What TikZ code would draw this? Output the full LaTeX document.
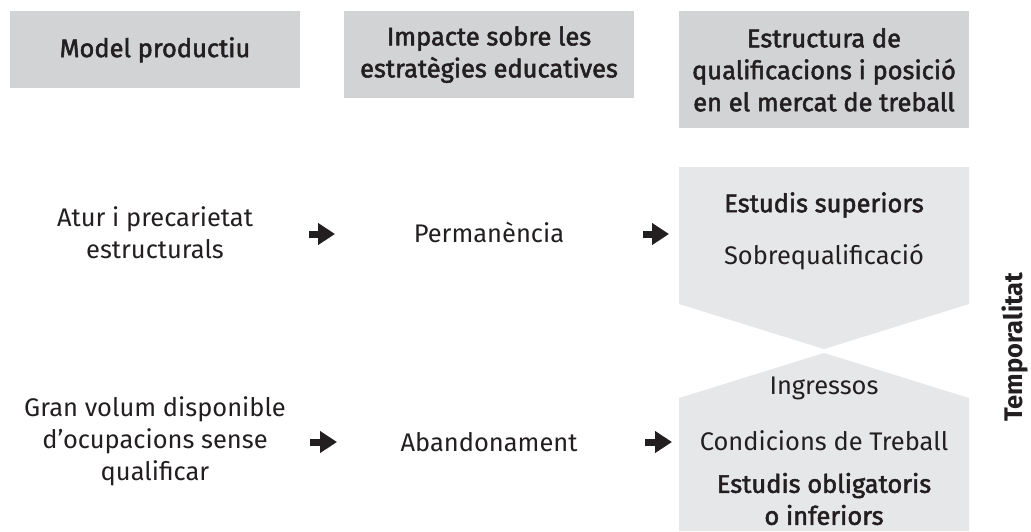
\documentclass[tikz,border=0pt]{standalone}
\usepackage{fontspec}
\setmainfont{Fira Sans}
\newfontfamily\medfont{Fira Sans}[FakeBold=2]
\usepackage{tikz}
\usetikzlibrary{arrows.meta,positioning,calc}
\definecolor{hdrcol}{HTML}{D1D3D4}
\definecolor{levcol}{HTML}{E6E7E8}
\definecolor{inkcol}{HTML}{231F20}

\tikzset{
  hdrbox/.style={fill=hdrcol,anchor=north,minimum width=5.8cm,inner sep=0pt,align=center,
    font=\medfont\fontsize{14.5}{18.2}\selectfont,text=inkcol},
  txt/.style={align=center,font=\fontsize{14.5}{18.2}\selectfont,text=inkcol,inner sep=0pt},
  boldtxt/.style={txt,font=\medfont\fontsize{14.5}{18.2}\selectfont},
  fatarrow/.style={draw=inkcol,line width=0.14cm,-{Triangle[length=0.34cm,width=0.42cm]}}
}

\begin{document}
\begin{tikzpicture}[x=0.02cm,y=-0.02cm]
  \useasboundingbox (0,0) rectangle (1031,531);
  % column headers
  \node[hdrbox,minimum height=1.54cm] (hmodel) at (155,11) {Model productiu};
  \node[hdrbox,minimum height=1.73cm] (himpact) at (489,11) {Impacte sobre les\\estratègies educatives};
  \node[hdrbox,minimum height=2.34cm] (hestr) at (824,11) {Estructura de\\qualificacions i posició\\en el mercat de treball};
  % the two levels of qualification
  \fill[levcol] (679,167) -- (969,167) -- (969,304) -- (824,349) -- (679,304) -- cycle;
  \fill[levcol] (679,398) -- (824,353) -- (969,398) -- (969,531) -- (679,531) -- cycle;
  % first row
  \node[txt] (atur) at (155,233) {Atur i precarietat\\estructurals};
  \node[txt] (perma) at (489,232) {Permanència};
  \node[boldtxt] (estsup) at (824,205) {Estudis superiors};
  \node[txt] (sobreq) at (824,257) {Sobrequalificació};
  % second row
  \node[txt] (gran) at (155,441) {Gran volum disponible\\d’ocupacions sense\\qualificar};
  \node[txt] (aband) at (489,442) {Abandonament};
  \node[txt] (ingr) at (824,388) {Ingressos};
  \node[txt] (condic) at (824,441) {Condicions de Treball};
  \node[boldtxt] (estobl) at (824,499) {Estudis obligatoris\\o inferiors};
  \node[txt,font=\bfseries\fontsize{14.5}{18.2}\selectfont,rotate=90] (temp) at (1015,347) {Temporalitat};
  % arrows between the columns
  \coordinate (a1) at (309,234); \coordinate (b1) at (335,234);
  \coordinate (a2) at (643,234); \coordinate (b2) at (669,234);
  \coordinate (a3) at (310,442); \coordinate (b3) at (337,442);
  \coordinate (a4) at (645,442); \coordinate (b4) at (672,442);
  \foreach \i in {1,...,4} \draw[fatarrow] (a\i) -- (b\i);
\end{tikzpicture}
\end{document}
